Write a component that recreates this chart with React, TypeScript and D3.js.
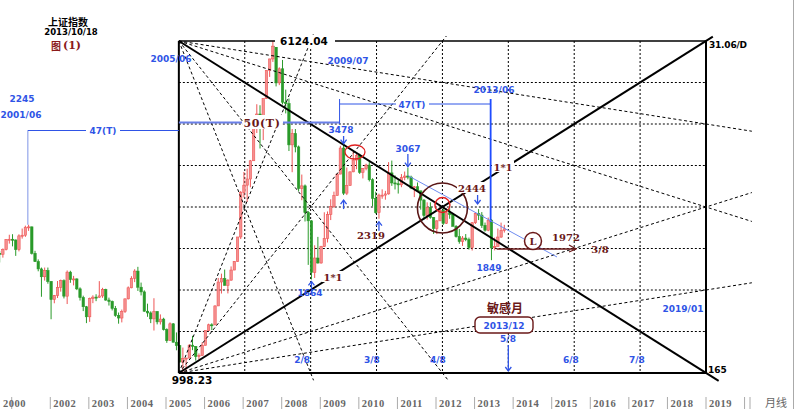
import React from 'react';
import * as d3 from 'd3';

const W = 800;
const H = 409;

// Monthly candles of 上证指数: [year, month, open, high, low, close]
const candles: number[][] = [
  [2000, 9, 1920, 1945, 1826, 1910], [2000, 10, 1910, 1972, 1875, 1961], [2000, 11, 1961, 2073, 1950, 2070], [2000, 12, 2070, 2125, 2024, 2073],
  [2001, 1, 2073, 2131, 1994, 2065], [2001, 2, 2065, 2070, 1893, 1959], [2001, 3, 1959, 2130, 1940, 2112], [2001, 4, 2112, 2198, 2080, 2119],
  [2001, 5, 2119, 2233, 2100, 2214], [2001, 6, 2214, 2245, 2170, 2218], [2001, 7, 2218, 2222, 1907, 1920], [2001, 8, 1920, 1946, 1834, 1834],
  [2001, 9, 1834, 1857, 1740, 1763], [2001, 10, 1763, 1776, 1514, 1689], [2001, 11, 1689, 1776, 1654, 1747], [2001, 12, 1747, 1776, 1626, 1646],
  [2002, 1, 1646, 1650, 1339, 1491], [2002, 2, 1491, 1529, 1461, 1524], [2002, 3, 1524, 1650, 1504, 1594], [2002, 4, 1594, 1663, 1557, 1653],
  [2002, 5, 1653, 1665, 1500, 1519], [2002, 6, 1519, 1748, 1455, 1732], [2002, 7, 1732, 1745, 1634, 1663], [2002, 8, 1663, 1697, 1611, 1669],
  [2002, 9, 1669, 1674, 1570, 1581], [2002, 10, 1581, 1594, 1483, 1507], [2002, 11, 1507, 1523, 1400, 1434], [2002, 12, 1434, 1440, 1311, 1357],
  [2003, 1, 1357, 1507, 1320, 1499], [2003, 2, 1499, 1526, 1462, 1511], [2003, 3, 1511, 1535, 1478, 1510], [2003, 4, 1510, 1649, 1505, 1521],
  [2003, 5, 1521, 1590, 1505, 1576], [2003, 6, 1576, 1582, 1481, 1487], [2003, 7, 1487, 1507, 1443, 1476], [2003, 8, 1476, 1483, 1405, 1421],
  [2003, 9, 1421, 1440, 1357, 1367], [2003, 10, 1367, 1389, 1307, 1348], [2003, 11, 1348, 1412, 1316, 1397], [2003, 12, 1397, 1498, 1386, 1497],
  [2004, 1, 1497, 1602, 1492, 1590], [2004, 2, 1590, 1694, 1586, 1675], [2004, 3, 1675, 1760, 1640, 1742], [2004, 4, 1742, 1783, 1563, 1595],
  [2004, 5, 1595, 1636, 1525, 1555], [2004, 6, 1555, 1568, 1395, 1399], [2004, 7, 1399, 1458, 1357, 1386], [2004, 8, 1386, 1398, 1311, 1342],
  [2004, 9, 1342, 1502, 1259, 1396], [2004, 10, 1396, 1400, 1302, 1320], [2004, 11, 1320, 1375, 1301, 1340], [2004, 12, 1340, 1350, 1259, 1266],
  [2005, 1, 1266, 1274, 1177, 1191], [2005, 2, 1191, 1316, 1189, 1306], [2005, 3, 1306, 1311, 1180, 1181], [2005, 4, 1181, 1246, 1130, 1159],
  [2005, 5, 1159, 1161, 1057, 1060], [2005, 6, 1060, 1147, 998, 1080], [2005, 7, 1080, 1085, 1004, 1083], [2005, 8, 1083, 1168, 1082, 1162],
  [2005, 9, 1162, 1223, 1131, 1155], [2005, 10, 1155, 1156, 1068, 1092], [2005, 11, 1092, 1111, 1074, 1099], [2005, 12, 1099, 1180, 1097, 1161],
  [2006, 1, 1161, 1259, 1161, 1258], [2006, 2, 1258, 1307, 1258, 1299], [2006, 3, 1299, 1310, 1262, 1298], [2006, 4, 1298, 1445, 1298, 1440],
  [2006, 5, 1440, 1678, 1440, 1641], [2006, 6, 1641, 1718, 1541, 1672], [2006, 7, 1672, 1757, 1610, 1612], [2006, 8, 1612, 1666, 1542, 1658],
  [2006, 9, 1658, 1787, 1653, 1752], [2006, 10, 1752, 1839, 1751, 1837], [2006, 11, 1837, 2099, 1834, 2099], [2006, 12, 2099, 2698, 2075, 2675],
  [2007, 1, 2675, 2994, 2605, 2786], [2007, 2, 2786, 3049, 2541, 2881], [2007, 3, 2881, 3197, 2754, 3183], [2007, 4, 3183, 3848, 3183, 3841],
  [2007, 5, 3841, 4335, 3705, 4109], [2007, 6, 4109, 4311, 3404, 3820], [2007, 7, 3820, 4472, 3563, 4471], [2007, 8, 4471, 5219, 4471, 5218],
  [2007, 9, 5218, 5558, 5033, 5552], [2007, 10, 5552, 6124, 5462, 5954], [2007, 11, 5954, 5955, 4778, 4871], [2007, 12, 4871, 5303, 4812, 5261],
  [2008, 1, 5261, 5522, 4330, 4383], [2008, 2, 4383, 4695, 4123, 4348], [2008, 3, 4348, 4473, 3357, 3472], [2008, 4, 3472, 3786, 2990, 3693],
  [2008, 5, 3693, 3786, 3333, 3433], [2008, 6, 3433, 3459, 2693, 2736], [2008, 7, 2736, 2952, 2566, 2775], [2008, 8, 2775, 2796, 2284, 2397],
  [2008, 9, 2397, 2420, 1802, 2293], [2008, 10, 2293, 2300, 1664, 1729], [2008, 11, 1729, 2006, 1678, 1871], [2008, 12, 1871, 2100, 1814, 1821],
  [2009, 1, 1821, 2000, 1814, 1991], [2009, 2, 1991, 2402, 1989, 2082], [2009, 3, 2082, 2413, 2037, 2373], [2009, 4, 2373, 2579, 2302, 2477],
  [2009, 5, 2477, 2689, 2461, 2632], [2009, 6, 2632, 2969, 2632, 2959], [2009, 7, 2959, 3454, 2959, 3412], [2009, 8, 3412, 3478, 2639, 2667],
  [2009, 9, 2667, 3068, 2639, 2779], [2009, 10, 2779, 3000, 2779, 2996], [2009, 11, 2996, 3361, 2990, 3195], [2009, 12, 3195, 3305, 3039, 3277],
  [2010, 1, 3277, 3306, 2963, 2989], [2010, 2, 2989, 3060, 2890, 3051], [2010, 3, 3051, 3132, 3021, 3109], [2010, 4, 3109, 3181, 2843, 2870],
  [2010, 5, 2870, 2893, 2481, 2592], [2010, 6, 2592, 2688, 2383, 2398], [2010, 7, 2398, 2660, 2319, 2638], [2010, 8, 2638, 2723, 2586, 2638],
  [2010, 9, 2638, 2700, 2573, 2656], [2010, 10, 2656, 3159, 2645, 2979], [2010, 11, 2979, 3186, 2775, 2820], [2010, 12, 2820, 2940, 2721, 2808],
  [2011, 1, 2808, 2862, 2661, 2791], [2011, 2, 2791, 2960, 2755, 2905], [2011, 3, 2905, 3001, 2861, 2928], [2011, 4, 2928, 3067, 2876, 2911],
  [2011, 5, 2911, 2934, 2725, 2743], [2011, 6, 2743, 2774, 2610, 2762], [2011, 7, 2762, 2827, 2690, 2701], [2011, 8, 2701, 2701, 2437, 2568],
  [2011, 9, 2568, 2581, 2307, 2359], [2011, 10, 2359, 2536, 2307, 2468], [2011, 11, 2468, 2536, 2319, 2333], [2011, 12, 2333, 2340, 2134, 2199],
  [2012, 1, 2199, 2300, 2132, 2292], [2012, 2, 2292, 2478, 2292, 2428], [2012, 3, 2428, 2478, 2242, 2262], [2012, 4, 2262, 2454, 2253, 2396],
  [2012, 5, 2396, 2453, 2318, 2373], [2012, 6, 2373, 2393, 2224, 2225], [2012, 7, 2225, 2240, 2092, 2103], [2012, 8, 2103, 2193, 2023, 2047],
  [2012, 9, 2047, 2110, 1999, 2086], [2012, 10, 2086, 2133, 2051, 2069], [2012, 11, 2069, 2092, 1959, 1980], [2012, 12, 1980, 2276, 1949, 2269],
  [2013, 1, 2269, 2404, 2253, 2385], [2013, 2, 2385, 2444, 2302, 2365], [2013, 3, 2365, 2405, 2205, 2237], [2013, 4, 2237, 2271, 2161, 2178],
  [2013, 5, 2178, 2334, 2166, 2301], [2013, 6, 2301, 2314, 1849, 1979], [2013, 7, 1979, 2092, 1951, 1994], [2013, 8, 1994, 2198, 1994, 2098],
  [2013, 9, 2098, 2270, 2089, 2175], [2013, 10, 2175, 2243, 2150, 2194],
];

// Gann box
const priceLow = 998.23;
const priceHigh = 6124.04;
const boxStart = 2005 + 4 / 12;
const boxEnd = 2019;
const eighths = [1, 2, 3, 4, 5, 6, 7];
const bottomFracLabels = ['2/8', '3/8', '4/8', '6/8', '7/8'];
const bottomFracX = [1.87, 2.93, 3.93, 5.95, 6.95];

// fan lines in box fractions: u = time fraction, v = price fraction (0 bottom, 1 top)
const fanLines: { from: number[]; to: number[]; ext: number }[] = [
  { from: [0, 1], to: [1, 0.75], ext: 1.087 },
  { from: [0, 1], to: [1, 0.5], ext: 1.087 },
  { from: [0, 1], to: [0.25, 0], ext: 1.022 },
  { from: [0, 1], to: [0.5, 0], ext: 1.022 },
  { from: [0, 0], to: [1, 0.5], ext: 1.087 },
  { from: [0, 0], to: [1, 0.25], ext: 1.087 },
  { from: [0, 0], to: [0.25, 1], ext: 1.02 },
  { from: [0, 0], to: [0.5, 1], ext: 1.015 },
];
const solidLines: { from: number[]; to: number[]; ext: number }[] = [
  { from: [0, 1], to: [1, 0], ext: 1.024 },
  { from: [0, 0], to: [1, 1], ext: 1.013 },
];

const axisYears = [2002, 2003, 2004, 2005, 2006, 2007, 2008, 2009, 2010, 2011, 2012, 2013, 2014, 2015, 2016, 2017, 2018, 2019];
const axisBounds = [2001, 2002, 2003, 2004, 2005, 2006, 2007, 2008, 2009, 2010, 2011, 2012, 2013, 2014, 2015, 2016, 2017, 2018, 2019, 2020];

const BLUE = '#2f54e6';
const BROWN = '#6a1818';
const SANS = 'DejaVu Sans, Verdana, sans-serif';
const SERIF = 'DejaVu Serif, serif';
const CJK = 'Noto Sans CJK SC, sans-serif';

const xS = d3.scaleLinear().domain([2005, 2019]).range([166, 706]);
const yS = d3.scaleLog().domain([priceLow, priceHigh]).range([373, 41]);
const bx = (u: number) => xS(boxStart) + u * (xS(boxEnd) - xS(boxStart));
const by = (v: number) => yS(priceLow) + v * (yS(priceHigh) - yS(priceLow));
const tOf = (y: number, m: number) => y + (m - 0.75) / 12;
const mStart = (y: number, m: number) => y + (m - 1) / 12;

function lineOf(l: { from: number[]; to: number[]; ext: number }) {
  const [u0, v0] = l.from;
  const [u1, v1] = l.to;
  const u2 = u0 + (u1 - u0) * l.ext;
  const v2 = v0 + (v1 - v0) * l.ext;
  return { x1: bx(u0), y1: by(v0), x2: bx(u2), y2: by(v2) };
}

function Arrow({ x, y1, y2, color = BLUE }: { x: number; y1: number; y2: number; color?: string }) {
  const d = y2 > y1 ? -1 : 1;
  return (
    <g stroke={color} strokeWidth={1.3} fill="none">
      <line x1={x} y1={y1} x2={x} y2={y2} />
      <path d={`M${x - 3},${y2 + d * 4} L${x},${y2} L${x + 3},${y2 + d * 4}`} />
    </g>
  );
}

function T({ x, y, children, color = BLUE, size = 9, font = SANS, anchor = 'start', bold = true, ls = 0 }: any) {
  return (
    <text x={x} y={y} fill={color} fontSize={size} fontFamily={font} fontWeight={bold ? 'bold' : 'normal'} textAnchor={anchor} letterSpacing={ls}>
      {children}
    </text>
  );
}

function BgRect({ x, y, w, h }: { x: number; y: number; w: number; h: number }) {
  return <rect x={x} y={y} width={w} height={h} fill="#fff" />;
}

export default function App() {
  const x0 = bx(0), x1 = bx(1), yTop = by(1), yBot = by(0);
  const bw = 2.4;
  const v2013_06 = xS(mStart(2013, 6));
  const v2009_07 = xS(mStart(2009, 7));
  const v2001_06 = xS(mStart(2001, 6));
  const c = (y: number, m: number) => candles.find((d) => d[0] === y && d[1] === m)!;
  const hiY = (y: number, m: number) => yS(c(y, m)[3]);
  const loY = (y: number, m: number) => yS(c(y, m)[4]);
  const cx = (y: number, m: number) => xS(tOf(y, m));

  return (
    <svg width={W} height={H} style={{ position: 'absolute', left: 0, top: 0, background: '#fff' }}>
      <rect x={0} y={0} width={W} height={H} fill="#fff" />
      <line x1={793.5} y1={0} x2={793.5} y2={H} stroke="#aaa" strokeWidth={1} />

      {/* grid */}
      <g stroke="#000" strokeWidth={1} strokeDasharray="2,2">
        {eighths.map((k) => (
          <line key={'v' + k} x1={bx(k / 8)} y1={yTop} x2={bx(k / 8)} y2={yBot} />
        ))}
        {eighths.map((k) => (
          <line key={'h' + k} x1={x0} y1={by(k / 8)} x2={x1} y2={by(k / 8)} />
        ))}
      </g>

      {/* candles */}
      <g>
        {candles.map((d) => {
          const [yr, mo, o, h, l, cl] = d;
          const x = xS(tOf(yr, mo));
          const up = cl >= o;
          const col = up ? '#ee5656' : '#2a9a2a';
          const fill = up ? '#f59090' : '#2a9a2a';
          const yb0 = yS(Math.max(o, cl));
          const yb1 = yS(Math.min(o, cl));
          return (
            <g key={yr + '-' + mo}>
              <line x1={x} x2={x} y1={yS(h)} y2={yS(l)} stroke={col} strokeWidth={1} />
              <rect x={x - bw / 2} y={yb0} width={bw} height={Math.max(1, yb1 - yb0)} fill={fill} stroke={col} strokeWidth={0.6} />
            </g>
          );
        })}
      </g>

      {/* fan lines */}
      <g stroke="#000" strokeWidth={1} strokeDasharray="3,2.5" fill="none">
        {fanLines.map((l, i) => {
          const p = lineOf(l);
          return <line key={i} {...p} />;
        })}
      </g>
      <g stroke="#000" strokeWidth={2} fill="none">
        {solidLines.map((l, i) => {
          const p = lineOf(l);
          return <line key={i} {...p} />;
        })}
      </g>

      {/* box frame */}
      <g stroke="#000" fill="none">
        <line x1={x0} y1={yTop} x2={x1} y2={yTop} strokeWidth={1.5} />
        <line x1={x0} y1={yTop} x2={x0} y2={yBot} strokeWidth={2} />
        <line x1={x0} y1={yBot} x2={x1} y2={yBot} strokeWidth={2} />
        <line x1={x1} y1={yTop} x2={x1} y2={yBot} strokeWidth={2} />
      </g>

      {/* titles */}
      <T x={68} y={25.5} color="#000" size={10} font={CJK} anchor="middle">上证指数</T>
      <T x={71} y={35} color="#000" size={8.5} anchor="middle">2013/10/18</T>
      <T x={51} y={49.5} color="#8b1a1a" size={10} font={CJK}>图</T>
      <T x={63} y={49} color="#8b1a1a" size={11} font={SERIF}>(1)</T>

      {/* left 47(T) */}
      <line x1={v2001_06} y1={130.5} x2={v2001_06} y2={yS(2245)} stroke="#a9b8ef" strokeWidth={1.5} />
      <line x1={v2001_06} y1={130.5} x2={86} y2={130.5} stroke={BLUE} strokeWidth={1} />
      <line x1={120} y1={130.5} x2={x0} y2={130.5} stroke={BLUE} strokeWidth={1} />
      <T x={103} y={134} size={9} anchor="middle">47(T)</T>
      <T x={22} y={102} size={9} anchor="middle">2245</T>
      <T x={21} y={118} size={9} anchor="middle">2001/06</T>
      <T x={171} y={62} size={9} anchor="middle">2005/06</T>

      {/* 50(T) */}
      <line x1={x0} y1={122.5} x2={242} y2={122.5} stroke="#6a7fe8" strokeWidth={1.8} />
      <line x1={283} y1={122.5} x2={v2009_07} y2={122.5} stroke="#6a7fe8" strokeWidth={1.8} />
      <BgRect x={243} y={115} w={39} h={14} />
      <T x={262} y={127} color={BROWN} size={11} font={SERIF} anchor="middle" ls={0.6}>50(T)</T>

      {/* right 47(T) */}
      <line x1={v2009_07} y1={99} x2={v2009_07} y2={124} stroke={BLUE} strokeWidth={1} />
      <line x1={v2009_07} y1={104} x2={396} y2={104} stroke={BLUE} strokeWidth={1} />
      <line x1={429} y1={104} x2={v2013_06} y2={104} stroke={BLUE} strokeWidth={1} />
      <line x1={v2013_06} y1={99} x2={v2013_06} y2={222} stroke="#1f4cff" strokeWidth={1.8} />
      <T x={412} y={108} size={9} anchor="middle">47(T)</T>
      <T x={348} y={64} size={9} anchor="middle">2009/07</T>
      <T x={494} y={93} size={9} anchor="middle">2013/06</T>

      {/* 6124.04 */}
      <BgRect x={275} y={35} w={60} h={12} />
      <T x={304} y={45} color="#000" size={10.5} anchor="middle">6124.04</T>
      <T x={192} y={384} color="#000" size={10.5} anchor="middle">998.23</T>
      <T x={709} y={48} color="#000" size={9} ls={-0.2}>31.06/D</T>
      <T x={708} y={373} color="#000" size={9}>165</T>

      {/* 3478 */}
      <T x={341} y={133} size={9} anchor="middle">3478</T>
      <Arrow x={cx(2009, 8)} y1={136} y2={hiY(2009, 8) - 1} />
      <ellipse cx={355} cy={152} rx={10} ry={7} fill="none" stroke="#e02020" strokeWidth={1.3} />
      <Arrow x={cx(2009, 8)} y1={loY(2009, 8) + 14} y2={loY(2009, 8) + 5} />

      {/* 3067 */}
      <T x={408} y={152} size={9} anchor="middle">3067</T>
      <Arrow x={cx(2011, 4)} y1={154} y2={hiY(2011, 4) - 1} />
      <line x1={cx(2011, 4)} y1={hiY(2011, 4) + 8} x2={557} y2={257} stroke="#6f8cf0" strokeWidth={1} />

      {/* 2319 */}
      <Arrow x={cx(2010, 7)} y1={loY(2010, 7) + 12} y2={loY(2010, 7) + 3} />
      <T x={371} y={239} color={BROWN} size={10} font={SERIF} anchor="middle">2319</T>

      {/* 1664 */}
      <Arrow x={cx(2008, 10)} y1={loY(2008, 10) + 10} y2={loY(2008, 10) + 2} />
      <T x={310} y={296} size={9} anchor="middle">1664</T>
      <BgRect x={322} y={271} w={22} h={11} />
      <T x={333} y={281} color={BROWN} size={10} font={SERIF} anchor="middle">1*1</T>
      <BgRect x={492} y={161} w={22} h={11} />
      <T x={503} y={171} color={BROWN} size={10} font={SERIF} anchor="middle">1*1</T>

      {/* circles */}
      <circle cx={bx(0.5)} cy={by(0.5) + 1} r={25} fill="none" stroke="#5a1616" strokeWidth={1.6} />
      <circle cx={bx(0.5)} cy={by(0.5) - 2} r={7.5} fill="none" stroke="#e02020" strokeWidth={1.4} />
      <BgRect x={457} y={182} w={30} h={11} />
      <T x={472} y={192} color={BROWN} size={10} font={SERIF} anchor="middle">2444</T>
      <Arrow x={cx(2013, 2) - 1} y1={195} y2={204} />

      {/* 1849 */}
      <T x={489} y={271} size={9} anchor="middle">1849</T>

      {/* L 1972 3/8 */}
      <line x1={v2013_06 + 6} y1={249} x2={576} y2={249} stroke={BROWN} strokeWidth={1.4} />
      <path d="M569,245 L576,249 L569,252" fill="none" stroke={BROWN} strokeWidth={1.2} />
      <circle cx={533} cy={241} r={8.5} fill="#fff" stroke={BROWN} strokeWidth={1.5} />
      <T x={533} y={245} color={BROWN} size={10} font={SERIF} anchor="middle">L</T>
      <T x={566} y={241} color={BROWN} size={10} font={SERIF} anchor="middle">1972</T>
      <T x={600} y={253} color={BROWN} size={10} font={SERIF} anchor="middle">3/8</T>

      {/* 敏感月 */}
      <T x={505} y={313} color={BROWN} size={12} font={CJK} anchor="middle">敏感月</T>
      <rect x={475} y={317} width={58} height={16} rx={5} fill="#fff" stroke={BROWN} strokeWidth={1.4} />
      <T x={504} y={329} size={9} anchor="middle">2013/12</T>
      <T x={508} y={342} size={9} anchor="middle">5/8</T>
      <Arrow x={bx(5 / 8)} y1={345} y2={371} />

      {/* bottom fraction labels */}
      {bottomFracLabels.map((s, i) => (
        <T key={s} x={bx(bottomFracX[i] / 8)} y={363} size={9} anchor="middle">{s}</T>
      ))}
      <T x={683} y={312} size={9} anchor="middle">2019/01</T>

      {/* time axis */}
      <g stroke="#aaa" strokeWidth={1}>
        {axisBounds.map((y) => (
          <line key={y} x1={xS(y)} y1={397} x2={xS(y)} y2={H} />
        ))}
        <line x1={750} y1={397} x2={750} y2={H} />
      </g>
      <T x={3} y={407} color="#666" size={10.5} font="Liberation Serif, serif" ls={0.5}>2000</T>
      {axisYears.map((y) => (
        <T key={y} x={xS(y) + 3} y={407} color="#666" size={10.5} font="Liberation Serif, serif" ls={0.5}>{y}</T>
      ))}
      <T x={765} y={407} color="#666" size={11} font={CJK} bold={false}>月线</T>
    </svg>
  );
}
